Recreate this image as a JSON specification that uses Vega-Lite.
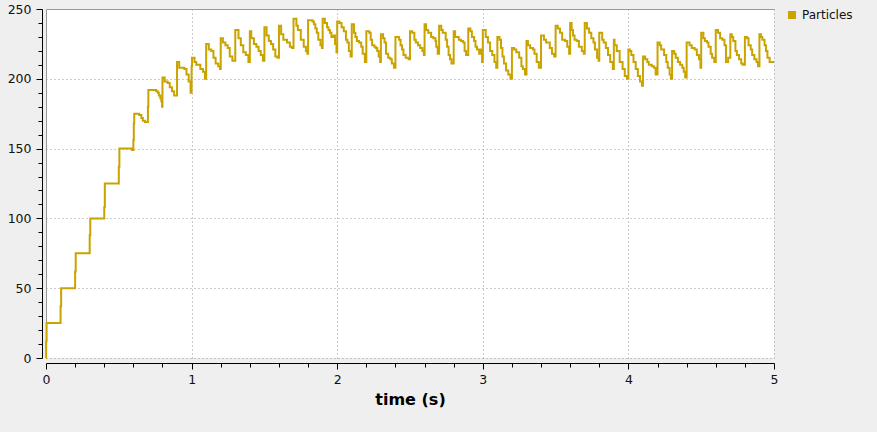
{
  "$schema": "https://vega.github.io/schema/vega-lite/v6.json",
  "width": 728,
  "height": 349,
  "autosize": {"type": "none"},
  "padding": {"left": 46, "top": 9, "right": 103, "bottom": 74},
  "background": "#efefef",
  "data": {
    "values": [
      {"t": 0, "p": 0}, {"t": 0.001, "p": 12}, {"t": 0.004, "p": 25},
      {"t": 0.1, "p": 37}, {"t": 0.104, "p": 50},
      {"t": 0.2, "p": 62}, {"t": 0.204, "p": 75},
      {"t": 0.3, "p": 88}, {"t": 0.304, "p": 100},
      {"t": 0.4, "p": 108}, {"t": 0.404, "p": 125},
      {"t": 0.5, "p": 137}, {"t": 0.504, "p": 150}, {"t": 0.59, "p": 149},
      {"t": 0.6, "p": 156}, {"t": 0.603, "p": 168}, {"t": 0.606, "p": 175}, {"t": 0.64, "p": 174}, {"t": 0.655, "p": 172}, {"t": 0.665, "p": 170}, {"t": 0.68, "p": 169},
      {"t": 0.7, "p": 180}, {"t": 0.703, "p": 192}, {"t": 0.757, "p": 191}, {"t": 0.768, "p": 190}, {"t": 0.775, "p": 188}, {"t": 0.785, "p": 186}, {"t": 0.792, "p": 184}, {"t": 0.797, "p": 180},
      {"t": 0.8, "p": 201}, {"t": 0.815, "p": 198}, {"t": 0.835, "p": 197}, {"t": 0.85, "p": 194}, {"t": 0.865, "p": 191}, {"t": 0.88, "p": 188},
      {"t": 0.9, "p": 212}, {"t": 0.915, "p": 208}, {"t": 0.95, "p": 207}, {"t": 0.965, "p": 203}, {"t": 0.98, "p": 198}, {"t": 0.993, "p": 190},
      {"t": 1.0, "p": 209}, {"t": 1.003, "p": 215}, {"t": 1.02, "p": 212}, {"t": 1.032, "p": 210}, {"t": 1.06, "p": 207}, {"t": 1.078, "p": 205}, {"t": 1.092, "p": 200},
      {"t": 1.1, "p": 225}, {"t": 1.118, "p": 221}, {"t": 1.135, "p": 220}, {"t": 1.15, "p": 215}, {"t": 1.165, "p": 211}, {"t": 1.183, "p": 209}, {"t": 1.195, "p": 207},
      {"t": 1.2, "p": 229}, {"t": 1.215, "p": 226}, {"t": 1.232, "p": 224}, {"t": 1.248, "p": 222}, {"t": 1.262, "p": 216}, {"t": 1.28, "p": 213},
      {"t": 1.3, "p": 235}, {"t": 1.322, "p": 229}, {"t": 1.338, "p": 224}, {"t": 1.355, "p": 219}, {"t": 1.372, "p": 217}, {"t": 1.39, "p": 212},
      {"t": 1.4, "p": 234}, {"t": 1.41, "p": 229}, {"t": 1.428, "p": 225}, {"t": 1.445, "p": 223}, {"t": 1.46, "p": 220}, {"t": 1.475, "p": 217}, {"t": 1.49, "p": 213},
      {"t": 1.5, "p": 237}, {"t": 1.515, "p": 231}, {"t": 1.53, "p": 227}, {"t": 1.545, "p": 225}, {"t": 1.56, "p": 221}, {"t": 1.575, "p": 216}, {"t": 1.59, "p": 215},
      {"t": 1.6, "p": 238}, {"t": 1.615, "p": 232}, {"t": 1.63, "p": 228}, {"t": 1.655, "p": 226}, {"t": 1.675, "p": 223}, {"t": 1.69, "p": 222},
      {"t": 1.7, "p": 243}, {"t": 1.72, "p": 238}, {"t": 1.73, "p": 235}, {"t": 1.75, "p": 228}, {"t": 1.77, "p": 223}, {"t": 1.785, "p": 220}, {"t": 1.795, "p": 218},
      {"t": 1.8, "p": 242}, {"t": 1.83, "p": 241}, {"t": 1.84, "p": 239}, {"t": 1.85, "p": 236}, {"t": 1.86, "p": 233}, {"t": 1.87, "p": 228}, {"t": 1.885, "p": 224}, {"t": 1.895, "p": 222},
      {"t": 1.9, "p": 243}, {"t": 1.915, "p": 240}, {"t": 1.93, "p": 237}, {"t": 1.94, "p": 235}, {"t": 1.95, "p": 233}, {"t": 1.96, "p": 230}, {"t": 1.975, "p": 231}, {"t": 1.985, "p": 225}, {"t": 1.995, "p": 219},
      {"t": 2.0, "p": 241}, {"t": 2.015, "p": 240}, {"t": 2.03, "p": 237}, {"t": 2.045, "p": 234}, {"t": 2.06, "p": 228}, {"t": 2.07, "p": 226}, {"t": 2.08, "p": 220}, {"t": 2.092, "p": 216},
      {"t": 2.1, "p": 239}, {"t": 2.115, "p": 233}, {"t": 2.125, "p": 230}, {"t": 2.135, "p": 227}, {"t": 2.15, "p": 226}, {"t": 2.165, "p": 223}, {"t": 2.175, "p": 218}, {"t": 2.19, "p": 212},
      {"t": 2.2, "p": 234}, {"t": 2.22, "p": 233}, {"t": 2.23, "p": 228}, {"t": 2.24, "p": 224}, {"t": 2.255, "p": 223}, {"t": 2.265, "p": 222}, {"t": 2.275, "p": 220}, {"t": 2.285, "p": 216}, {"t": 2.295, "p": 212},
      {"t": 2.3, "p": 232}, {"t": 2.315, "p": 229}, {"t": 2.325, "p": 226}, {"t": 2.335, "p": 218}, {"t": 2.35, "p": 215}, {"t": 2.365, "p": 214}, {"t": 2.375, "p": 211}, {"t": 2.39, "p": 208},
      {"t": 2.4, "p": 230}, {"t": 2.425, "p": 228}, {"t": 2.435, "p": 224}, {"t": 2.445, "p": 221}, {"t": 2.455, "p": 217}, {"t": 2.47, "p": 215}, {"t": 2.49, "p": 214},
      {"t": 2.5, "p": 234}, {"t": 2.515, "p": 233}, {"t": 2.53, "p": 228}, {"t": 2.54, "p": 226}, {"t": 2.555, "p": 224}, {"t": 2.57, "p": 222}, {"t": 2.585, "p": 220}, {"t": 2.595, "p": 217},
      {"t": 2.6, "p": 239}, {"t": 2.61, "p": 235}, {"t": 2.625, "p": 233}, {"t": 2.645, "p": 230}, {"t": 2.66, "p": 229}, {"t": 2.675, "p": 227}, {"t": 2.68, "p": 223}, {"t": 2.69, "p": 218},
      {"t": 2.7, "p": 238}, {"t": 2.715, "p": 235}, {"t": 2.725, "p": 233}, {"t": 2.745, "p": 228}, {"t": 2.755, "p": 223}, {"t": 2.765, "p": 217}, {"t": 2.775, "p": 214}, {"t": 2.785, "p": 211},
      {"t": 2.8, "p": 234}, {"t": 2.81, "p": 230}, {"t": 2.835, "p": 228}, {"t": 2.85, "p": 227}, {"t": 2.865, "p": 226}, {"t": 2.875, "p": 220}, {"t": 2.885, "p": 217},
      {"t": 2.9, "p": 236}, {"t": 2.915, "p": 234}, {"t": 2.925, "p": 230}, {"t": 2.94, "p": 227}, {"t": 2.95, "p": 223}, {"t": 2.96, "p": 221}, {"t": 2.975, "p": 218}, {"t": 2.985, "p": 221}, {"t": 2.995, "p": 212},
      {"t": 3.0, "p": 235}, {"t": 3.02, "p": 230}, {"t": 3.035, "p": 226}, {"t": 3.05, "p": 220}, {"t": 3.065, "p": 217}, {"t": 3.08, "p": 212}, {"t": 3.092, "p": 208},
      {"t": 3.1, "p": 230}, {"t": 3.115, "p": 228}, {"t": 3.125, "p": 222}, {"t": 3.135, "p": 216}, {"t": 3.145, "p": 211}, {"t": 3.16, "p": 206}, {"t": 3.175, "p": 203}, {"t": 3.19, "p": 200},
      {"t": 3.2, "p": 222}, {"t": 3.215, "p": 221}, {"t": 3.23, "p": 219}, {"t": 3.25, "p": 215}, {"t": 3.265, "p": 209}, {"t": 3.275, "p": 207}, {"t": 3.29, "p": 203},
      {"t": 3.3, "p": 227}, {"t": 3.31, "p": 224}, {"t": 3.325, "p": 222}, {"t": 3.345, "p": 221}, {"t": 3.355, "p": 218}, {"t": 3.37, "p": 212}, {"t": 3.385, "p": 208},
      {"t": 3.4, "p": 231}, {"t": 3.42, "p": 228}, {"t": 3.435, "p": 226}, {"t": 3.46, "p": 222}, {"t": 3.475, "p": 218}, {"t": 3.49, "p": 216},
      {"t": 3.5, "p": 238}, {"t": 3.515, "p": 236}, {"t": 3.53, "p": 233}, {"t": 3.545, "p": 228}, {"t": 3.565, "p": 227}, {"t": 3.58, "p": 223}, {"t": 3.593, "p": 218},
      {"t": 3.6, "p": 240}, {"t": 3.61, "p": 235}, {"t": 3.62, "p": 231}, {"t": 3.63, "p": 228}, {"t": 3.645, "p": 227}, {"t": 3.66, "p": 223}, {"t": 3.68, "p": 220}, {"t": 3.693, "p": 218},
      {"t": 3.7, "p": 240}, {"t": 3.715, "p": 236}, {"t": 3.73, "p": 233}, {"t": 3.745, "p": 229}, {"t": 3.76, "p": 226}, {"t": 3.77, "p": 221}, {"t": 3.785, "p": 215}, {"t": 3.795, "p": 213},
      {"t": 3.8, "p": 233}, {"t": 3.82, "p": 228}, {"t": 3.83, "p": 226}, {"t": 3.845, "p": 222}, {"t": 3.86, "p": 217}, {"t": 3.875, "p": 212}, {"t": 3.893, "p": 207},
      {"t": 3.9, "p": 228}, {"t": 3.905, "p": 224}, {"t": 3.92, "p": 220}, {"t": 3.94, "p": 212}, {"t": 3.96, "p": 207}, {"t": 3.975, "p": 202}, {"t": 3.99, "p": 200},
      {"t": 4.0, "p": 221}, {"t": 4.01, "p": 220}, {"t": 4.02, "p": 217}, {"t": 4.035, "p": 212}, {"t": 4.05, "p": 207}, {"t": 4.065, "p": 202}, {"t": 4.08, "p": 198}, {"t": 4.093, "p": 195},
      {"t": 4.1, "p": 216}, {"t": 4.115, "p": 214}, {"t": 4.13, "p": 212}, {"t": 4.14, "p": 210}, {"t": 4.16, "p": 209}, {"t": 4.175, "p": 208}, {"t": 4.187, "p": 203},
      {"t": 4.2, "p": 226}, {"t": 4.215, "p": 224}, {"t": 4.225, "p": 221}, {"t": 4.245, "p": 217}, {"t": 4.26, "p": 212}, {"t": 4.27, "p": 208}, {"t": 4.283, "p": 203}, {"t": 4.292, "p": 200},
      {"t": 4.3, "p": 220}, {"t": 4.315, "p": 218}, {"t": 4.325, "p": 215}, {"t": 4.34, "p": 212}, {"t": 4.355, "p": 210}, {"t": 4.37, "p": 208}, {"t": 4.38, "p": 205}, {"t": 4.39, "p": 201},
      {"t": 4.4, "p": 226}, {"t": 4.42, "p": 224}, {"t": 4.435, "p": 222}, {"t": 4.455, "p": 221}, {"t": 4.47, "p": 217}, {"t": 4.485, "p": 214}, {"t": 4.495, "p": 208},
      {"t": 4.5, "p": 233}, {"t": 4.515, "p": 229}, {"t": 4.525, "p": 227}, {"t": 4.54, "p": 226}, {"t": 4.55, "p": 223}, {"t": 4.565, "p": 218}, {"t": 4.575, "p": 215}, {"t": 4.59, "p": 212},
      {"t": 4.6, "p": 235}, {"t": 4.615, "p": 233}, {"t": 4.63, "p": 229}, {"t": 4.645, "p": 228}, {"t": 4.66, "p": 224}, {"t": 4.67, "p": 212}, {"t": 4.685, "p": 215},
      {"t": 4.7, "p": 232}, {"t": 4.71, "p": 230}, {"t": 4.72, "p": 227}, {"t": 4.735, "p": 220}, {"t": 4.745, "p": 217}, {"t": 4.76, "p": 214}, {"t": 4.775, "p": 211}, {"t": 4.785, "p": 210},
      {"t": 4.8, "p": 230}, {"t": 4.815, "p": 229}, {"t": 4.825, "p": 224}, {"t": 4.84, "p": 221}, {"t": 4.85, "p": 217}, {"t": 4.865, "p": 214}, {"t": 4.88, "p": 212}, {"t": 4.89, "p": 209},
      {"t": 4.9, "p": 232}, {"t": 4.91, "p": 230}, {"t": 4.92, "p": 228}, {"t": 4.935, "p": 224}, {"t": 4.945, "p": 220}, {"t": 4.955, "p": 215}, {"t": 4.97, "p": 212}, {"t": 4.99, "p": 212},
      {"t": 5.0, "p": 212}
    ]
  },
  "mark": {"type": "line", "interpolate": "step-after", "strokeWidth": 2},
  "encoding": {
    "x": {
      "field": "t",
      "type": "quantitative",
      "scale": {"domain": [0, 5], "nice": false},
      "axis": {
        "title": "time (s)",
        "format": "~g",
        "values": [0, 0.2, 0.4, 0.6, 0.8, 1, 1.2, 1.4, 1.6, 1.8, 2, 2.2, 2.4, 2.6, 2.8, 3, 3.2, 3.4, 3.6, 3.8, 4, 4.2, 4.4, 4.6, 4.8, 5],
        "labelExpr": "datum.value % 1 === 0 ? datum.label : ''",
        "tickSize": {"condition": {"test": "datum.value % 1 === 0", "value": 6}, "value": 4},
        "gridOpacity": {"condition": {"test": "datum.value % 1 === 0", "value": 1}, "value": 0},
        "gridDash": {"condition": {"test": "datum.value === 0", "value": []}, "value": [1, 3]},
        "offset": 5,
        "labelPadding": 4,
        "titlePadding": 6
      }
    },
    "y": {
      "field": "p",
      "type": "quantitative",
      "scale": {"domain": [0, 250], "nice": false},
      "axis": {
        "title": null,
        "format": "d",
        "values": [0, 10, 20, 30, 40, 50, 60, 70, 80, 90, 100, 110, 120, 130, 140, 150, 160, 170, 180, 190, 200, 210, 220, 230, 240, 250],
        "labelExpr": "datum.value % 50 === 0 ? datum.label : ''",
        "tickSize": {"condition": {"test": "datum.value % 50 === 0", "value": 6}, "value": 4},
        "gridOpacity": {"condition": {"test": "datum.value % 50 === 0", "value": 1}, "value": 0},
        "gridDash": {"condition": {"test": "datum.value === 250", "value": []}, "value": [1, 3]},
        "offset": 4,
        "labelPadding": 5
      }
    },
    "color": {
      "datum": "Particles",
      "type": "nominal",
      "scale": {"range": ["#c9a300"]},
      "legend": {"title": null, "symbolType": "square", "symbolSize": 64, "symbolStrokeWidth": 0, "offset": 12, "padding": 0}
    }
  },
  "config": {
    "view": {"fill": "white", "stroke": null},
    "font": "DejaVu Sans",
    "axis": {
      "domainColor": "black",
      "tickColor": "black",
      "labelColor": "#111",
      "labelFont": "DejaVu Sans",
      "labelFontSize": 12.5,
      "labelFlush": false,
      "labelOverlap": false,
      "gridColor": "#999",
      "gridWidth": 1,
      "titleFont": "DejaVu Sans",
      "titleFontSize": 16,
      "titleFontWeight": "bold",
      "titleColor": "black"
    },
    "legend": {
      "labelFont": "DejaVu Sans",
      "labelFontSize": 12,
      "labelColor": "#111",
      "symbolFillColor": "#c9a300"
    }
  }
}
